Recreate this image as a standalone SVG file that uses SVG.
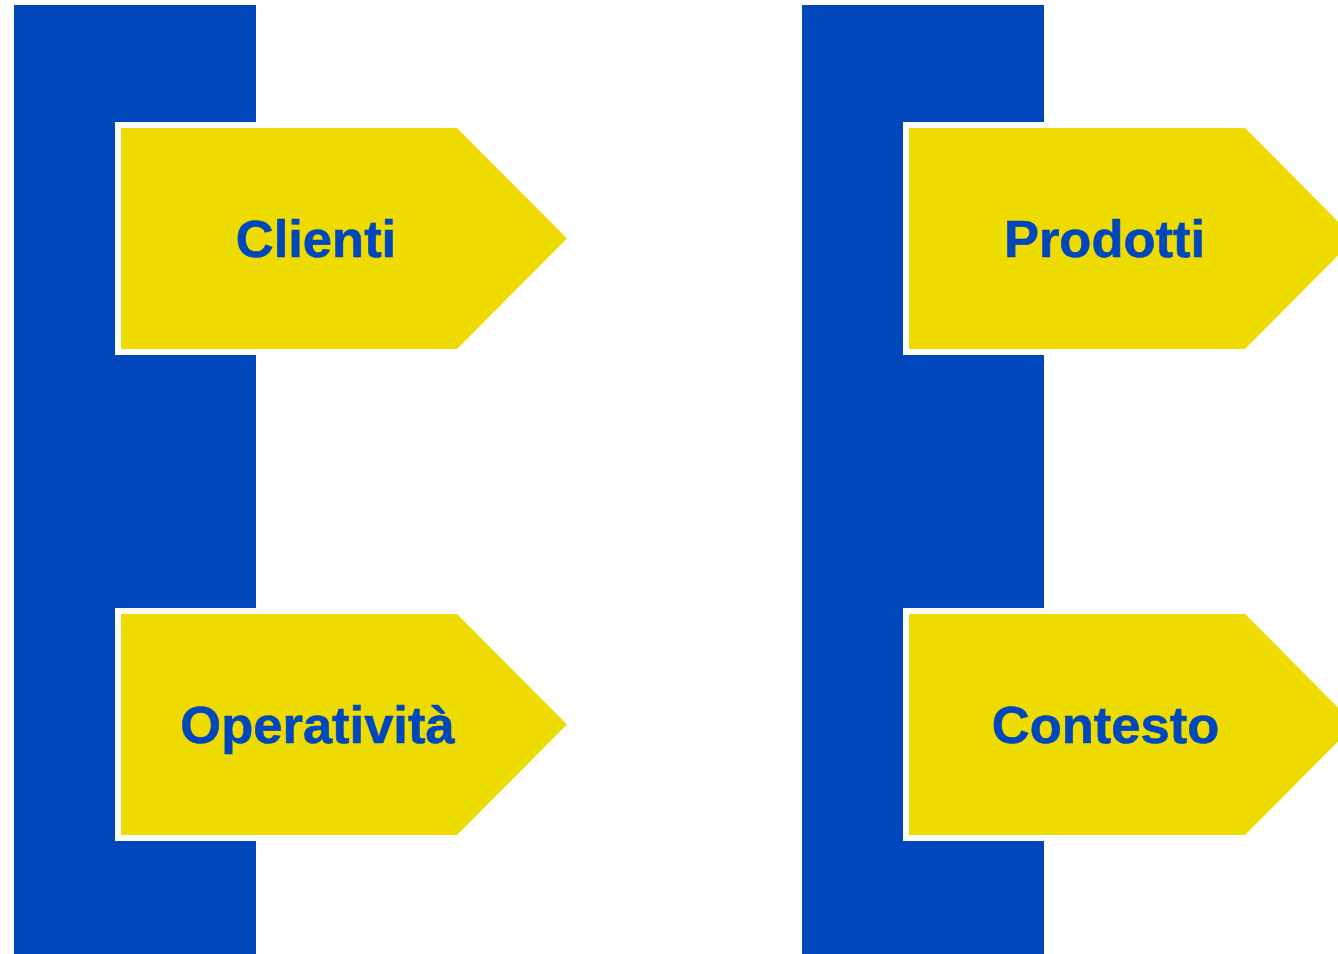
<svg xmlns="http://www.w3.org/2000/svg" width="1338" height="954" viewBox="0 0 1338 954">
<style>
.bar{fill:#0047BB}
.gap{fill:#FFFFFF}
.arrow{fill:#EEDC00}
.lbl{font-family:"Liberation Sans",Arial,sans-serif;font-weight:bold;font-size:52.5px;fill:#0047BB;stroke:#0047BB;stroke-width:0.6;text-anchor:middle}
</style>
<rect width="1338" height="954" fill="#FFFFFF"/>
<g id="bar-left"><rect class="bar" x="14" y="5" width="242" height="949"/></g>
<g id="bar-right"><rect class="bar" x="802" y="5" width="242" height="949"/></g>
<g id="connectors"></g>
<g id="clienti">
<rect class="gap" x="115" y="122" width="141" height="233"/>
<polygon class="arrow" points="121,128 457,128 567,238.5 457,349 121,349"/>
<text class="lbl" x="316" y="257">Clienti</text>
</g>
<g id="operativita">
<rect class="gap" x="115" y="608" width="141" height="233"/>
<polygon class="arrow" points="121,614 457,614 567,724.5 457,835 121,835"/>
<text class="lbl" x="317.5" y="743">Operatività</text>
</g>
<g id="prodotti">
<rect class="gap" x="903" y="122" width="141" height="233"/>
<polygon class="arrow" points="909,128 1245,128 1355,238.5 1245,349 909,349"/>
<text class="lbl" x="1104.5" y="257">Prodotti</text>
</g>
<g id="contesto">
<rect class="gap" x="903" y="608" width="141" height="233"/>
<polygon class="arrow" points="909,614 1245,614 1355,724.5 1245,835 909,835"/>
<text class="lbl" x="1105.5" y="743">Contesto</text>
</g>
</svg>
